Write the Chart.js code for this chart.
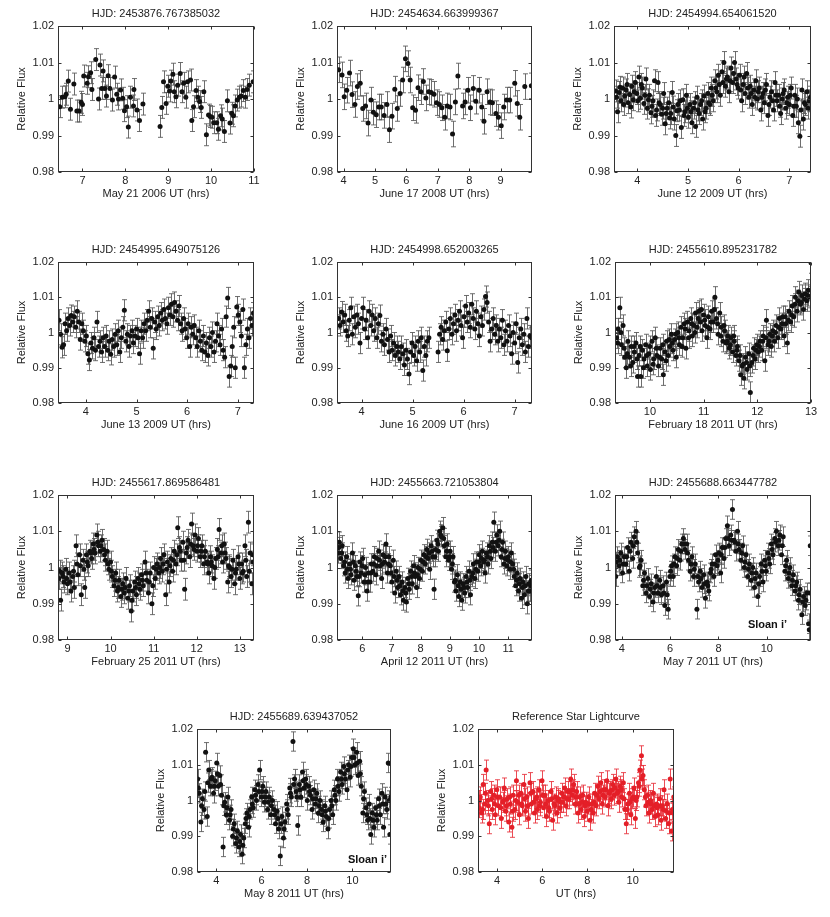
<!DOCTYPE html>
<html lang="en">
<head>
  <meta charset="UTF-8">
  <title>Light curves</title>
  <script src="https://cdn.jsdelivr.net/npm/chart.js@4.4.1/dist/chart.umd.min.js"></script>
  <style>
    body { margin: 0; background: #fff; width: 830px; height: 917px; position: relative; overflow: hidden; }
  </style>
</head>
<body>
<script>
// ---- data: [UT hours, relative flux] ----
var may21_2006 = [[6.47,0.9979],[6.53,1.0005],[6.59,1.0006],[6.62,1.0013],[6.67,1.0049],[6.72,0.9972],[6.80,1.0041],[6.87,0.9967],[6.92,0.9967],[6.97,0.9991],[7.00,0.9985],[7.03,1.0063],[7.11,1.0043],[7.14,1.0061],[7.19,1.0072],[7.22,1.0026],[7.31,1.0108],[7.375,1.0000],[7.41,1.0093],[7.45,1.0029],[7.48,1.0077],[7.52,1.0029],[7.56,1.0008],[7.60,1.0064],[7.64,1.0029],[7.70,0.9997],[7.75,1.0060],[7.80,1.0013],[7.84,1.0000],[7.89,1.0025],[7.94,1.0002],[7.98,0.9968],[8.03,0.9979],[8.07,0.9923],[8.12,1.0005],[8.19,0.9981],[8.20,1.0026],[8.27,0.9970],[8.33,0.9941],[8.41,0.9986],
  [8.81,0.9925],[8.85,0.9977],[8.89,1.0047],[8.95,0.9988],[8.99,1.0035],[9.03,1.0022],[9.06,1.0049],[9.11,1.0068],[9.14,1.0020],[9.18,1.0006],[9.22,1.0038],[9.28,1.0070],[9.32,1.0020],[9.36,1.0043],[9.41,1.0005],[9.45,1.0047],[9.52,1.0052],[9.55,0.9941],[9.59,0.9979],[9.65,1.0023],[9.69,1.0005],[9.73,0.9993],[9.77,0.9977],[9.83,1.0020],[9.89,0.9902],[9.94,0.9956],[9.98,0.9952],[10.02,0.9950],[10.06,0.9935],[10.13,0.9935],[10.17,0.9917],[10.22,0.9954],[10.26,0.9945],[10.31,0.9911],[10.38,0.9995],[10.44,0.9934],[10.48,0.9961],[10.52,0.9954],[10.56,0.9981],[10.61,0.9997],[10.66,1.0005],[10.70,1.0008],[10.75,1.0023],[10.80,1.0005],[10.84,1.0026],[10.89,1.0038],[10.98,1.0047]];

var june17_2008 = [[3.84,1.0080],[3.95,1.0066],[4.02,1.0006],[4.10,1.0024],[4.19,1.0071],[4.27,1.0012],[4.36,0.9985],[4.44,1.0034],[4.53,1.0043],[4.61,0.9974],[4.70,0.9981],[4.78,0.9934],[4.87,0.9997],[4.95,0.9964],[5.04,0.9957],[5.12,0.9978],[5.20,0.9978],[5.29,0.9955],[5.38,0.9985],[5.46,0.9916],[5.54,0.9953],[5.63,1.0027],[5.71,0.9974],[5.80,1.0015],[5.88,1.0052],[5.97,1.0110],[6.05,1.0097],[6.12,1.0052],[6.20,0.9976],[6.29,0.9969],[6.37,1.0031],[6.46,1.0020],[6.54,1.0048],[6.62,1.0003],[6.71,1.0020],[6.79,1.0018],[6.88,1.0013],[6.96,0.9990],[7.05,0.9985],[7.13,0.9976],[7.22,0.9950],[7.30,0.9981],[7.39,0.9978],[7.47,0.9904],[7.56,0.9992],[7.64,1.0063],[7.79,0.9981],[7.87,0.9992],[7.96,1.0024],[8.04,0.9976],[8.13,1.0029],[8.21,0.9994],[8.32,1.0024],[8.40,0.9978],[8.47,0.9939],[8.57,1.0020],[8.66,0.9992],[8.74,0.9990],[8.85,0.9960],[8.93,0.9950],[9.02,0.9927],[9.10,0.9978],[9.19,0.9997],[9.29,0.9997],[9.45,1.0043],[9.53,0.9988],[9.61,0.9950],[9.77,1.0034],[9.98,1.0036]];

var june12_2009 = [[3.57,1.0022],[3.59,1.0005],[3.61,0.9965],[3.64,1.0018],[3.66,1.0032],[3.68,0.9995],[3.71,1.0030],[3.73,0.9985],[3.75,1.0008],[3.78,1.0025],[3.80,1.0040],[3.82,0.9990],[3.85,1.0012],[3.87,0.9978],[3.89,1.0035],[3.92,0.9998],[3.94,1.0020],[3.96,1.0045],[3.99,1.0015],[4.01,0.9995],[4.03,1.0060],[4.06,1.0002],[4.08,1.0040],[4.10,1.0030],[4.13,0.9988],[4.15,1.0010],[4.17,1.0055],[4.20,0.9975],[4.22,0.9998],[4.24,1.0010],[4.27,0.9962],[4.29,0.9980],[4.31,0.9995],[4.34,1.0050],[4.36,0.9955],[4.38,0.9970],[4.41,1.0045],[4.43,0.9990],[4.45,0.9985],[4.48,0.9958],[4.50,0.9975],[4.52,1.0015],[4.55,0.9932],[4.57,0.9960],[4.59,0.9975],[4.62,0.9990],[4.64,0.9948],[4.66,0.9960],[4.69,1.0018],[4.71,0.9978],[4.73,0.9945],[4.76,0.9900],[4.78,0.9968],[4.80,0.9985],[4.83,0.9970],[4.85,0.9995],[4.87,0.9922],[4.90,0.9998],[4.92,0.9955],[4.94,0.9965],[4.97,1.0010],[4.99,0.9975],[5.01,0.9950],[5.04,0.9985],[5.06,0.9965],[5.08,0.9935],[5.11,0.9975],[5.13,0.9990],[5.15,0.9925],[5.18,1.0005],[5.20,0.9970],[5.22,0.9960],[5.25,0.9985],[5.27,0.9995],[5.29,0.9945],[5.32,1.0008],[5.34,0.9965],[5.36,0.9975],[5.39,1.0015],[5.41,0.9990],[5.43,0.9985],[5.46,1.0030],[5.48,1.0010],[5.50,0.9995],[5.53,1.0050],[5.55,1.0030],[5.57,1.0020],[5.60,1.0065],[5.62,1.0040],[5.64,1.0010],[5.67,1.0075],[5.69,1.0045],[5.71,1.0100],[5.74,1.0035],[5.76,1.0055],[5.78,1.0060],[5.81,1.0020],[5.83,1.0050],[5.85,1.0085],[5.88,1.0045],[5.90,1.0070],[5.92,1.0100],[5.95,1.0055],[5.97,1.0040],[5.99,1.0030],[6.02,1.0065],[6.04,1.0025],[6.06,0.9995],[6.09,1.0040],[6.11,1.0060],[6.13,1.0015],[6.16,1.0070],[6.18,1.0030],[6.20,1.0005],[6.23,1.0035],[6.25,1.0015],[6.27,0.9985],[6.30,1.0025],[6.32,1.0005],[6.34,1.0050],[6.37,1.0000],[6.39,1.0020],[6.41,1.0030],[6.44,0.9970],[6.46,1.0005],[6.48,1.0015],[6.51,0.9990],[6.53,1.0025],[6.55,1.0040],[6.58,0.9955],[6.60,0.9985],[6.62,1.0005],[6.65,1.0020],[6.67,0.9995],[6.69,0.9970],[6.72,1.0045],[6.74,1.0010],[6.76,0.9995],[6.79,1.0010],[6.81,0.9980],[6.83,0.9960],[6.86,1.0000],[6.88,1.0015],[6.90,1.0025],[6.93,0.9975],[6.95,0.9990],[6.97,1.0005],[7.00,0.9985],[7.02,1.0010],[7.04,1.0030],[7.07,0.9955],[7.09,0.9980],[7.11,1.0010],[7.14,0.9980],[7.16,1.0000],[7.18,0.9935],[7.21,0.9898],[7.23,0.9970],[7.25,1.0025],[7.28,0.9945],[7.30,0.9990],[7.32,0.9985],[7.35,1.0020],[7.37,0.9975],[7.39,0.9995],[7.42,1.0005]];

var june13_2009 = [[3.47,1.0035],[3.50,0.9995],[3.53,0.9958],[3.56,0.9965],[3.59,1.0025],[3.62,1.0005],[3.65,1.0040],[3.68,1.0020],[3.71,1.0048],[3.74,1.0030],[3.77,1.0045],[3.80,1.0015],[3.83,1.0060],[3.86,1.0030],[3.89,0.9980],[3.92,1.0025],[3.95,1.0005],[3.98,0.9975],[4.01,0.9990],[4.04,0.9940],[4.07,0.9922],[4.10,0.9970],[4.13,0.9955],[4.16,0.9985],[4.19,0.9950],[4.22,1.0030],[4.25,0.9960],[4.28,0.9975],[4.31,0.9945],[4.34,0.9985],[4.37,0.9960],[4.40,0.9990],[4.43,0.9950],[4.46,0.9975],[4.49,0.9938],[4.52,0.9980],[4.55,0.9960],[4.58,0.9995],[4.61,0.9965],[4.64,1.0005],[4.67,0.9945],[4.70,0.9985],[4.73,1.0015],[4.76,1.0063],[4.79,0.9975],[4.82,0.9995],[4.85,0.9960],[4.88,0.9990],[4.91,1.0005],[4.94,0.9970],[4.97,0.9990],[5.00,1.0010],[5.03,0.9985],[5.06,0.9940],[5.09,1.0005],[5.12,0.9985],[5.15,1.0025],[5.18,1.0005],[5.21,1.0035],[5.24,1.0060],[5.27,1.0015],[5.30,1.0040],[5.33,0.9955],[5.36,1.0030],[5.39,1.0010],[5.42,1.0045],[5.45,1.0020],[5.48,1.0055],[5.51,1.0035],[5.54,1.0065],[5.57,1.0040],[5.60,1.0025],[5.63,1.0070],[5.66,1.0050],[5.69,1.0080],[5.72,1.0045],[5.75,1.0085],[5.78,1.0060],[5.81,1.0035],[5.84,1.0075],[5.87,1.0025],[5.90,1.0005],[5.93,1.0040],[5.96,1.0010],[5.99,0.9985],[6.02,1.0025],[6.05,0.9960],[6.08,1.0015],[6.11,0.9995],[6.14,1.0020],[6.17,0.9985],[6.20,0.9960],[6.23,1.0005],[6.26,0.9975],[6.29,0.9950],[6.32,0.9990],[6.35,0.9945],[6.38,0.9970],[6.41,0.9935],[6.44,0.9985],[6.47,0.9960],[6.50,1.0000],[6.53,0.9945],[6.56,0.9975],[6.59,1.0025],[6.62,0.9990],[6.65,0.9965],[6.68,1.0010],[6.71,0.9950],[6.74,0.9930],[6.77,1.0045],[6.80,1.0098],[6.83,0.9875],[6.86,0.9905],[6.89,0.9960],[6.92,1.0015],[6.95,0.9900],[6.98,1.0072],[7.01,1.0050],[7.04,1.0030],[7.07,0.9990],[7.10,1.0065],[7.13,0.9900],[7.16,0.9965],[7.19,1.0010],[7.22,0.9985],[7.25,1.0040],[7.28,1.0020],[7.31,1.0055]];

var june16_2009 = [[3.55,1.0040],[3.58,1.0020],[3.61,1.0058],[3.64,1.0030],[3.67,1.0050],[3.70,1.0005],[3.73,0.9990],[3.76,1.0035],[3.79,1.0070],[3.82,0.9995],[3.85,1.0045],[3.88,1.0015],[3.91,1.0050],[3.94,1.0025],[3.97,0.9970],[4.00,1.0040],[4.03,1.0070],[4.06,1.0010],[4.09,1.0035],[4.12,0.9985],[4.15,1.0060],[4.18,1.0020],[4.21,1.0050],[4.24,1.0005],[4.27,1.0040],[4.30,0.9985],[4.33,1.0025],[4.36,1.0048],[4.39,0.9975],[4.42,0.9995],[4.45,0.9965],[4.48,1.0010],[4.51,0.9980],[4.54,0.9945],[4.57,0.9990],[4.60,0.9950],[4.63,0.9970],[4.66,0.9935],[4.69,0.9960],[4.72,0.9945],[4.75,0.9925],[4.78,0.9960],[4.81,0.9940],[4.84,0.9908],[4.87,0.9950],[4.90,0.9925],[4.93,0.9882],[4.96,0.9945],[4.99,0.9970],[5.02,0.9935],[5.05,0.9960],[5.08,0.9920],[5.11,0.9975],[5.14,0.9945],[5.17,0.9985],[5.20,0.9892],[5.23,0.9960],[5.26,0.9935],[5.29,0.9975],[5.32,0.9985],[5.50,0.9945],[5.53,0.9995],[5.56,1.0015],[5.59,0.9980],[5.62,1.0005],[5.65,1.0030],[5.68,0.9948],[5.71,1.0010],[5.74,1.0040],[5.77,0.9995],[5.80,1.0025],[5.83,1.0050],[5.86,1.0005],[5.89,1.0035],[5.92,1.0060],[5.95,1.0020],[5.98,0.9985],[6.01,1.0045],[6.04,1.0075],[6.07,1.0030],[6.10,1.0055],[6.13,1.0015],[6.16,1.0080],[6.19,1.0040],[6.22,1.0010],[6.25,1.0060],[6.28,1.0025],[6.31,0.9990],[6.34,1.0045],[6.37,1.0020],[6.40,1.0065],[6.43,1.0102],[6.46,1.0085],[6.49,1.0030],[6.52,0.9975],[6.55,1.0010],[6.58,1.0040],[6.61,0.9995],[6.64,1.0020],[6.67,0.9975],[6.70,1.0010],[6.73,0.9985],[6.76,1.0035],[6.79,0.9965],[6.82,1.0005],[6.85,0.9975],[6.88,1.0020],[6.91,0.9990],[6.94,0.9940],[6.97,1.0000],[7.00,0.9970],[7.03,1.0025],[7.06,0.9915],[7.09,0.9985],[7.12,1.0010],[7.15,0.9965],[7.18,0.9995],[7.21,0.9945],[7.24,1.0040],[7.27,0.9960],[7.30,0.9990],[7.33,0.9985]];

var feb18_2011 = [[9.38,0.9985],[9.41,1.0010],[9.44,1.0070],[9.47,0.9965],[9.50,1.0020],[9.53,0.9930],[9.56,0.9900],[9.59,0.9975],[9.62,0.9930],[9.65,0.9960],[9.68,0.9915],[9.71,0.9945],[9.74,0.9970],[9.77,0.9875],[9.80,0.9935],[9.83,0.9875],[9.86,0.9950],[9.89,0.9925],[9.92,0.9965],[9.95,0.9905],[9.98,0.9940],[10.01,0.9895],[10.04,0.9975],[10.07,0.9925],[10.10,0.9985],[10.13,0.9935],[10.16,0.9905],[10.19,0.9955],[10.22,0.9925],[10.25,0.9880],[10.28,0.9945],[10.31,0.9975],[10.34,0.9935],[10.37,0.9960],[10.40,0.9995],[10.43,0.9950],[10.46,0.9980],[10.49,0.9930],[10.52,1.0000],[10.55,0.9965],[10.58,1.0015],[10.61,0.9985],[10.64,1.0025],[10.67,0.9955],[10.70,1.0030],[10.73,1.0005],[10.76,1.0040],[10.79,0.9990],[10.82,1.0020],[10.85,1.0055],[10.88,1.0015],[10.91,1.0060],[10.94,1.0030],[10.97,1.0005],[11.00,1.0050],[11.03,1.0020],[11.06,0.9985],[11.09,1.0045],[11.12,1.0010],[11.15,1.0060],[11.18,1.0030],[11.21,1.0100],[11.24,1.0040],[11.27,0.9995],[11.30,1.0055],[11.33,1.0015],[11.36,0.9975],[11.39,1.0005],[11.42,0.9970],[11.45,0.9990],[11.48,0.9955],[11.51,0.9985],[11.54,0.9945],[11.57,0.9975],[11.60,0.9935],[11.63,0.9960],[11.66,0.9920],[11.69,0.9880],[11.72,0.9905],[11.75,0.9870],[11.78,0.9930],[11.81,0.9895],[11.84,0.9940],[11.87,0.9830],[11.90,0.9915],[11.93,0.9955],[11.96,0.9925],[11.99,0.9965],[12.02,0.9945],[12.05,0.9975],[12.08,0.9950],[12.11,0.9990],[12.14,0.9920],[12.17,1.0035],[12.20,0.9965],[12.23,0.9995],[12.26,0.9960],[12.29,1.0005],[12.32,0.9975],[12.35,1.0020],[12.38,0.9985],[12.41,1.0040],[12.44,1.0010],[12.47,1.0045],[12.50,0.9990],[12.53,1.0025],[12.56,0.9970],[12.59,1.0060],[12.62,1.0030],[12.65,1.0075],[12.68,1.0045],[12.71,1.0100],[12.74,1.0060],[12.77,1.0115],[12.80,1.0080],[12.83,1.0105],[12.86,1.0065],[12.89,1.0110],[12.92,1.0090],[12.95,1.0120],[12.98,1.0100],[13.00,1.0198]];

var feb25_2011 = [[8.80,0.9970],[8.84,0.9910],[8.88,0.9985],[8.92,0.9960],[8.96,0.9995],[9.00,0.9955],[9.04,0.9985],[9.08,0.9935],[9.12,0.9975],[9.16,0.9945],[9.20,1.0060],[9.24,0.9980],[9.28,1.0035],[9.32,0.9925],[9.36,1.0020],[9.40,0.9945],[9.44,1.0035],[9.48,1.0005],[9.52,1.0045],[9.56,1.0025],[9.60,1.0065],[9.64,1.0040],[9.68,1.0090],[9.72,1.0060],[9.76,1.0045],[9.80,1.0075],[9.84,1.0050],[9.88,1.0020],[9.92,1.0045],[9.96,0.9995],[10.00,1.0015],[10.04,0.9975],[10.08,0.9950],[10.12,0.9985],[10.16,0.9935],[10.20,0.9965],[10.24,0.9920],[10.28,0.9955],[10.32,0.9930],[10.36,0.9970],[10.40,0.9915],[10.44,0.9950],[10.48,0.9880],[10.52,0.9935],[10.56,0.9960],[10.60,0.9925],[10.64,0.9970],[10.68,0.9940],[10.72,0.9980],[10.76,0.9950],[10.80,1.0015],[10.84,0.9965],[10.88,0.9930],[10.92,0.9985],[10.96,0.9900],[11.00,1.0000],[11.04,0.9970],[11.08,1.0010],[11.12,0.9985],[11.16,1.0025],[11.20,0.9990],[11.24,1.0035],[11.28,0.9925],[11.32,1.0015],[11.36,0.9960],[11.40,1.0025],[11.44,0.9990],[11.48,1.0045],[11.52,1.0010],[11.56,1.0110],[11.60,1.0055],[11.64,1.0020],[11.68,1.0070],[11.72,0.9940],[11.76,1.0040],[11.80,1.0075],[11.84,1.0030],[11.88,1.0120],[11.92,1.0060],[11.96,1.0090],[12.00,1.0045],[12.04,1.0080],[12.08,1.0030],[12.12,1.0060],[12.16,1.0010],[12.20,1.0045],[12.24,1.0015],[12.28,0.9985],[12.32,1.0030],[12.36,1.0005],[12.40,0.9970],[12.44,1.0025],[12.48,1.0050],[12.52,1.0105],[12.56,1.0040],[12.60,1.0015],[12.64,1.0065],[12.68,1.0025],[12.72,0.9960],[12.76,1.0000],[12.80,0.9975],[12.84,1.0020],[12.88,0.9955],[12.92,0.9995],[12.96,1.0030],[13.00,0.9970],[13.04,1.0010],[13.08,0.9990],[13.12,1.0060],[13.16,0.9975],[13.20,1.0125],[13.24,1.0040],[13.28,0.9955],[13.31,1.0015]];

var apr12_2011 = [[5.16,1.0040],[5.21,1.0070],[5.26,1.0025],[5.31,1.0060],[5.36,1.0005],[5.41,0.9985],[5.46,1.0030],[5.51,0.9970],[5.56,1.0010],[5.61,0.9980],[5.66,1.0040],[5.71,0.9965],[5.76,1.0005],[5.81,0.9975],[5.86,0.9922],[5.91,1.0015],[5.96,0.9985],[6.01,1.0025],[6.06,0.9960],[6.11,1.0000],[6.16,0.9935],[6.21,0.9985],[6.26,0.9960],[6.31,1.0010],[6.36,0.9990],[6.41,1.0030],[6.46,0.9980],[6.51,1.0025],[6.56,1.0045],[6.61,1.0005],[6.66,0.9970],[6.71,1.0035],[6.76,1.0015],[6.81,1.0065],[6.86,0.9985],[6.91,1.0030],[6.96,1.0005],[7.01,0.9960],[7.06,1.0020],[7.11,0.9930],[7.16,0.9990],[7.21,0.9945],[7.26,0.9975],[7.31,0.9925],[7.36,0.9960],[7.41,0.9910],[7.46,0.9945],[7.51,0.9905],[7.56,0.9970],[7.61,0.9940],[7.66,0.9990],[7.71,0.9955],[7.76,1.0005],[7.81,0.9975],[7.86,0.9945],[7.91,1.0000],[7.96,0.9970],[8.01,1.0020],[8.06,0.9990],[8.11,1.0035],[8.16,1.0010],[8.21,1.0050],[8.26,1.0025],[8.31,0.9995],[8.36,1.0060],[8.41,1.0030],[8.46,0.9940],[8.51,1.0050],[8.56,1.0075],[8.61,1.0045],[8.66,1.0100],[8.71,1.0085],[8.76,1.0110],[8.81,1.0060],[8.86,1.0030],[8.91,1.0065],[8.96,1.0020],[9.01,1.0045],[9.06,0.9995],[9.11,1.0030],[9.16,0.9960],[9.21,0.9935],[9.26,0.9980],[9.31,0.9920],[9.36,0.9960],[9.41,0.9910],[9.46,0.9955],[9.51,0.9930],[9.56,0.9975],[9.61,0.9945],[9.66,0.9990],[9.71,0.9925],[9.76,0.9975],[9.81,1.0010],[9.86,0.9970],[9.91,1.0015],[9.96,0.9990],[10.01,1.0035],[10.06,1.0005],[10.11,1.0045],[10.16,1.0015],[10.21,0.9985],[10.26,1.0040],[10.31,1.0010],[10.36,1.0060],[10.41,1.0025],[10.46,1.0070],[10.51,1.0125],[10.56,1.0045],[10.61,1.0090],[10.66,1.0060],[10.71,1.0100],[10.76,1.0030],[10.81,1.0070],[10.86,1.0010],[10.91,1.0045],[10.96,1.0005],[11.01,1.0030],[11.06,0.9995],[11.11,1.0040],[11.16,1.0010],[11.21,0.9975],[11.26,0.9950],[11.31,0.9985],[11.36,0.9935],[11.41,0.9970],[11.46,0.9915],[11.51,0.9960],[11.56,0.9925],[11.61,0.9975],[11.66,0.9900],[11.71,0.9955],[11.76,0.9935],[11.80,0.9965]];

var may07_2011 = [[3.75,0.9975],[3.82,1.0030],[3.89,1.0005],[3.96,1.0040],[4.03,0.9985],[4.10,1.0030],[4.17,1.0010],[4.24,1.0055],[4.31,0.9990],[4.38,1.0070],[4.45,1.0025],[4.52,1.0085],[4.59,1.0100],[4.66,1.0040],[4.73,1.0000],[4.80,1.0020],[4.87,0.9950],[4.94,0.9985],[5.01,0.9930],[5.08,0.9970],[5.15,0.9920],[5.22,0.9955],[5.29,0.9905],[5.36,0.9945],[5.43,0.9975],[5.50,0.9930],[5.57,0.9965],[5.64,0.9925],[5.71,0.9950],[5.78,0.9895],[5.85,0.9960],[5.92,0.9885],[5.99,0.9975],[6.06,1.0005],[6.13,0.9975],[6.20,1.0030],[6.27,1.0005],[6.34,1.0050],[6.41,1.0020],[6.48,1.0065],[6.55,1.0080],[6.62,1.0050],[6.69,1.0065],[6.76,1.0020],[6.83,0.9990],[6.90,1.0030],[6.97,0.9975],[7.04,1.0010],[7.11,0.9885],[7.18,0.9960],[7.25,0.9990],[7.32,0.9945],[7.39,0.9980],[7.46,0.9915],[7.53,0.9960],[7.60,0.9935],[7.67,0.9985],[7.74,1.0010],[7.81,0.9975],[7.88,1.0035],[7.95,1.0005],[8.02,1.0040],[8.09,0.9985],[8.16,1.0055],[8.23,1.0025],[8.30,1.0080],[8.37,1.0115],[8.44,1.0060],[8.51,1.0090],[8.58,1.0160],[8.65,1.0075],[8.72,1.0045],[8.79,1.0100],[8.86,1.0050],[8.93,1.0020],[9.00,1.0060],[9.07,1.0000],[9.14,1.0035],[9.21,0.9975],[9.28,1.0010],[9.35,0.9965],[9.42,1.0000],[9.49,0.9945],[9.56,0.9985],[9.63,0.9920],[9.70,0.9975],[9.77,1.0010],[9.84,0.9960],[9.91,1.0020],[9.98,0.9990],[10.05,1.0040],[10.12,1.0010],[10.19,1.0065],[10.26,1.0035],[10.33,1.0080],[10.40,1.0100],[10.47,1.0060],[10.54,1.0090],[10.61,1.0035],[10.68,1.0085],[10.75,0.9990],[10.82,1.0020],[10.89,0.9970],[10.96,1.0000],[11.03,0.9950],[11.10,0.9980],[11.17,0.9935],[11.24,0.9960],[11.31,0.9910],[11.38,0.9940],[11.45,0.9870],[11.52,0.9920],[11.59,0.9895],[11.66,0.9930],[11.73,0.9845],[11.76,0.9828],[11.80,1.0060]];

var may08_2011 = [[3.18,1.0060],[3.25,1.0020],[3.32,0.9940],[3.39,1.0005],[3.46,0.9975],[3.53,1.0135],[3.60,0.9955],[3.67,1.0085],[3.74,1.0040],[3.81,1.0065],[3.88,1.0020],[3.95,1.0055],[4.02,1.0105],[4.09,1.0040],[4.16,1.0070],[4.23,1.0015],[4.30,0.9870],[4.37,0.9995],[4.44,0.9960],[4.51,1.0010],[4.58,0.9945],[4.65,0.9975],[4.72,0.9900],[4.79,0.9935],[4.86,0.9880],[4.93,0.9915],[5.00,0.9870],[5.07,0.9905],[5.14,0.9850],[5.21,0.9895],[5.28,0.9935],[5.35,0.9965],[5.42,0.9925],[5.49,0.9975],[5.56,1.0010],[5.63,0.9980],[5.70,1.0030],[5.77,1.0000],[5.84,1.0045],[5.91,1.0085],[5.98,1.0010],[6.05,1.0040],[6.12,0.9995],[6.19,1.0025],[6.26,0.9975],[6.33,1.0010],[6.40,0.9960],[6.47,1.0000],[6.54,0.9975],[6.61,0.9935],[6.68,0.9970],[6.75,0.9920],[6.82,0.9845],[6.89,0.9955],[6.96,0.9895],[7.03,0.9940],[7.10,0.9990],[7.17,0.9960],[7.24,1.0035],[7.31,1.0010],[7.38,1.0165],[7.45,1.0060],[7.52,1.0025],[7.59,0.9930],[7.66,1.0045],[7.73,1.0010],[7.80,1.0080],[7.87,1.0035],[7.94,1.0060],[8.01,1.0000],[8.08,1.0040],[8.15,1.0015],[8.22,0.9975],[8.29,1.0030],[8.36,0.9990],[8.43,1.0020],[8.50,0.9965],[8.57,1.0000],[8.64,0.9975],[8.71,0.9940],[8.78,0.9985],[8.85,0.9955],[8.92,0.9920],[8.99,0.9975],[9.06,1.0000],[9.13,0.9960],[9.20,1.0030],[9.27,1.0000],[9.34,1.0060],[9.41,1.0025],[9.48,1.0080],[9.55,1.0045],[9.62,1.0095],[9.69,1.0060],[9.76,1.0030],[9.83,1.0100],[9.90,1.0065],[9.97,1.0120],[10.04,1.0145],[10.11,1.0100],[10.18,1.0135],[10.25,1.0070],[10.32,1.0110],[10.39,1.0040],[10.46,0.9965],[10.53,1.0025],[10.60,0.9980],[10.67,0.9945],[10.74,0.9990],[10.81,0.9905],[10.88,0.9965],[10.95,0.9925],[11.02,0.9980],[11.09,0.9945],[11.16,1.0005],[11.23,0.9960],[11.30,1.0020],[11.37,0.9925],[11.44,1.0010],[11.51,0.9975],[11.58,1.0105],[11.65,0.9905],[11.69,1.0010]];

var referenceStar = [[3.19,0.9980],[3.26,1.0010],[3.32,0.9965],[3.39,1.0045],[3.46,0.9990],[3.52,1.0085],[3.59,1.0000],[3.66,0.9935],[3.72,1.0025],[3.79,0.9975],[3.86,1.0015],[3.92,0.9960],[3.99,1.0030],[4.06,0.9985],[4.12,1.0010],[4.19,0.9950],[4.26,0.9995],[4.32,1.0035],[4.39,0.9970],[4.46,1.0005],[4.52,0.9940],[4.59,0.9990],[4.66,0.9925],[4.72,1.0015],[4.79,0.9975],[4.86,1.0055],[4.92,0.9995],[4.99,0.9960],[5.06,1.0020],[5.12,0.9985],[5.19,1.0045],[5.26,0.9970],[5.32,1.0010],[5.39,0.9950],[5.46,1.0050],[5.52,0.9990],[5.59,1.0025],[5.66,0.9965],[5.72,1.0005],[5.79,0.9975],[5.86,1.0030],[5.92,0.9995],[5.99,1.0055],[6.06,0.9980],[6.12,1.0015],[6.19,0.9955],[6.26,1.0000],[6.32,0.9970],[6.39,1.0025],[6.46,0.9945],[6.52,0.9990],[6.59,1.0010],[6.66,0.9965],[6.72,1.0005],[6.79,0.9980],[6.86,1.0020],[6.92,0.9995],[6.99,1.0035],[7.06,0.9985],[7.12,1.0025],[7.19,1.0005],[7.26,1.0060],[7.32,1.0015],[7.39,1.0045],[7.46,0.9990],[7.52,1.0025],[7.59,0.9965],[7.66,1.0010],[7.72,0.9975],[7.79,1.0015],[7.86,0.9955],[7.92,0.9995],[7.99,0.9970],[8.06,1.0010],[8.12,0.9945],[8.19,0.9990],[8.26,0.9965],[8.32,1.0020],[8.39,0.9985],[8.46,1.0040],[8.52,1.0005],[8.59,1.0050],[8.66,0.9990],[8.72,1.0030],[8.79,1.0010],[8.86,1.0055],[8.92,0.9985],[8.99,1.0025],[9.06,1.0005],[9.12,1.0045],[9.19,1.0015],[9.26,1.0060],[9.32,1.0020],[9.39,0.9995],[9.46,1.0040],[9.52,1.0010],[9.59,1.0050],[9.66,0.9975],[9.72,0.9935],[9.79,0.9990],[9.86,1.0020],[9.92,0.9960],[9.99,1.0005],[10.06,1.0035],[10.12,0.9950],[10.19,1.0010],[10.26,1.0050],[10.32,1.0085],[10.39,1.0125],[10.46,1.0070],[10.52,1.0030],[10.59,0.9985],[10.66,1.0015],[10.72,0.9965],[10.79,1.0000],[10.86,0.9975],[10.92,1.0020],[10.99,0.9955],[11.06,0.9990],[11.12,0.9960],[11.19,1.0005],[11.26,0.9945],[11.32,0.9985],[11.39,1.0030],[11.46,0.9950],[11.52,0.9990],[11.59,0.9935],[11.66,1.0060],[11.72,0.9915],[11.79,0.9965],[11.82,1.0010]];

// second, interleaved exposures for the densest nights
var feb18_2011b = [[9.40,0.9970],[9.46,1.0000],[9.52,0.9955],[9.58,0.9940],[9.64,0.9905],[9.70,0.9960],[9.76,0.9925],[9.82,0.9960],[9.88,0.9900],[9.94,0.9935],[10.00,0.9960],[10.06,0.9910],[10.12,0.9955],[10.18,0.9930],[10.24,0.9965],[10.30,0.9920],[10.36,0.9980],[10.42,0.9970],[10.48,0.9995],[10.54,0.9985],[10.60,0.9960],[10.66,1.0010],[10.72,0.9985],[10.78,1.0025],[10.84,1.0000],[10.90,1.0040],[10.96,1.0065],[11.02,1.0035],[11.08,1.0015],[11.14,1.0030],[11.20,1.0065],[11.26,1.0025],[11.32,0.9990],[11.38,1.0020],[11.44,0.9975],[11.50,0.9965],[11.56,0.9990],[11.62,0.9950],[11.68,0.9935],[11.74,0.9910],[11.80,0.9915],[11.86,0.9905],[11.92,0.9935],[11.98,0.9950],[12.04,0.9960],[12.10,0.9975],[12.16,0.9985],[12.22,0.9975],[12.28,0.9990],[12.34,1.0000],[12.40,1.0015],[12.46,1.0025],[12.52,1.0045],[12.58,1.0035],[12.64,1.0050],[12.70,1.0080],[12.76,1.0090],[12.82,1.0085],[12.88,1.0095],[12.94,1.0105]];

var feb25_2011b = [[8.82,0.9990],[8.90,0.9975],[8.98,0.9970],[9.06,0.9960],[9.14,0.9990],[9.22,1.0010],[9.30,1.0005],[9.38,0.9995],[9.46,1.0015],[9.54,1.0040],[9.62,1.0050],[9.70,1.0070],[9.78,1.0060],[9.86,1.0035],[9.94,1.0010],[10.02,0.9990],[10.10,0.9965],[10.18,0.9945],[10.26,0.9940],[10.34,0.9945],[10.42,0.9935],[10.50,0.9910],[10.58,0.9945],[10.66,0.9955],[10.74,0.9965],[10.82,0.9985],[10.90,0.9960],[10.98,0.9950],[11.06,0.9995],[11.14,1.0000],[11.22,1.0010],[11.30,0.9995],[11.38,1.0005],[11.46,1.0020],[11.54,1.0035],[11.62,1.0045],[11.70,1.0020],[11.78,1.0055],[11.86,1.0065],[11.94,1.0050],[12.02,1.0060],[12.10,1.0045],[12.18,1.0030],[12.26,1.0010],[12.34,1.0015],[12.42,1.0000],[12.50,1.0030],[12.58,1.0060],[12.66,1.0040],[12.74,1.0005],[12.82,0.9995],[12.90,0.9985],[12.98,1.0010],[13.06,0.9985],[13.14,1.0020],[13.22,0.9990],[13.30,1.0035]];

var apr12_2011b = [[5.19,1.0055],[5.29,1.0040],[5.39,1.0015],[5.49,0.9995],[5.59,0.9995],[5.69,1.0015],[5.79,0.9990],[5.89,0.9975],[5.99,1.0005],[6.09,0.9980],[6.19,0.9960],[6.29,0.9985],[6.39,1.0010],[6.49,1.0005],[6.59,1.0020],[6.69,1.0010],[6.79,1.0030],[6.89,1.0010],[6.99,0.9985],[7.09,0.9975],[7.19,0.9965],[7.29,0.9950],[7.39,0.9935],[7.49,0.9930],[7.59,0.9955],[7.69,0.9975],[7.79,0.9985],[7.89,0.9980],[7.99,0.9995],[8.09,1.0015],[8.19,1.0030],[8.29,1.0040],[8.39,1.0045],[8.49,1.0030],[8.59,1.0065],[8.69,1.0090],[8.79,1.0080],[8.89,1.0045],[8.99,1.0030],[9.09,1.0010],[9.19,0.9965],[9.29,0.9950],[9.39,0.9940],[9.49,0.9945],[9.59,0.9960],[9.69,0.9965],[9.79,0.9985],[9.89,0.9995],[9.99,1.0015],[10.09,1.0025],[10.19,1.0020],[10.29,1.0030],[10.39,1.0045],[10.49,1.0055],[10.59,1.0070],[10.69,1.0075],[10.79,1.0050],[10.89,1.0025],[10.99,1.0020],[11.09,1.0015],[11.19,0.9995],[11.29,0.9965],[11.39,0.9955],[11.49,0.9945],[11.59,0.9950],[11.69,0.9935],[11.78,0.9950]];

var may07_2011b = [[3.78,1.0015],[3.92,1.0020],[4.06,1.0010],[4.20,1.0030],[4.34,1.0045],[4.48,1.0060],[4.62,1.0070],[4.76,1.0005],[4.90,0.9965],[5.04,0.9950],[5.18,0.9940],[5.32,0.9930],[5.46,0.9950],[5.60,0.9945],[5.74,0.9930],[5.88,0.9925],[6.02,0.9990],[6.16,1.0010],[6.30,1.0025],[6.44,1.0045],[6.58,1.0065],[6.72,1.0040],[6.86,1.0010],[7.00,0.9995],[7.14,0.9975],[7.28,0.9970],[7.42,0.9955],[7.56,0.9950],[7.70,0.9995],[7.84,1.0010],[7.98,1.0020],[8.12,1.0035],[8.26,1.0055],[8.40,1.0080],[8.54,1.0075],[8.68,1.0070],[8.82,1.0065],[8.96,1.0040],[9.10,1.0015],[9.24,0.9995],[9.38,0.9985],[9.52,0.9970],[9.66,0.9955],[9.80,0.9990],[9.94,1.0005],[10.08,1.0025],[10.22,1.0050],[10.36,1.0070],[10.50,1.0075],[10.64,1.0060],[10.78,1.0005],[10.92,0.9985],[11.06,0.9965],[11.20,0.9950],[11.34,0.9925],[11.48,0.9905],[11.62,0.9910],[11.78,0.9930]];

var may08_2011b = [[3.21,1.0035],[3.35,0.9985],[3.49,1.0025],[3.63,1.0050],[3.77,1.0060],[3.91,1.0040],[4.05,1.0075],[4.19,1.0045],[4.33,0.9985],[4.47,0.9980],[4.61,0.9960],[4.75,0.9920],[4.89,0.9895],[5.03,0.9885],[5.17,0.9875],[5.31,0.9950],[5.45,0.9955],[5.59,0.9990],[5.73,1.0015],[5.87,1.0025],[6.01,1.0025],[6.15,1.0010],[6.29,0.9995],[6.43,0.9985],[6.57,0.9960],[6.71,0.9950],[6.85,0.9935],[6.99,0.9920],[7.13,0.9975],[7.27,1.0020],[7.41,1.0045],[7.55,1.0010],[7.69,1.0030],[7.83,1.0055],[7.97,1.0045],[8.11,1.0025],[8.25,1.0005],[8.39,1.0005],[8.53,0.9985],[8.67,0.9960],[8.81,0.9970],[8.95,0.9950],[9.09,0.9985],[9.23,1.0015],[9.37,1.0040],[9.51,1.0060],[9.65,1.0075],[9.79,1.0085],[9.93,1.0095],[10.07,1.0120],[10.21,1.0105],[10.35,1.0075],[10.49,1.0005],[10.63,0.9960],[10.77,0.9950],[10.91,0.9945],[11.05,0.9960],[11.19,0.9985],[11.33,0.9990],[11.47,0.9990],[11.61,1.0000]];

var referenceStarB = [[3.22,1.0000],[3.36,0.9975],[3.49,1.0020],[3.62,0.9985],[3.76,1.0005],[3.89,0.9990],[4.02,1.0010],[4.16,0.9980],[4.29,1.0000],[4.42,0.9985],[4.56,1.0010],[4.69,0.9970],[4.82,1.0000],[4.96,1.0015],[5.09,0.9990],[5.22,1.0005],[5.36,0.9985],[5.49,1.0020],[5.62,0.9995],[5.76,1.0010],[5.89,0.9985],[6.02,1.0015],[6.16,0.9990],[6.29,0.9980],[6.42,1.0005],[6.56,0.9985],[6.69,1.0000],[6.82,0.9995],[6.96,1.0010],[7.09,1.0005],[7.22,1.0025],[7.36,1.0030],[7.49,1.0010],[7.62,0.9990],[7.76,0.9995],[7.89,0.9985],[8.02,0.9990],[8.16,0.9975],[8.29,0.9995],[8.42,1.0015],[8.56,1.0025],[8.69,1.0015],[8.82,1.0030],[8.96,1.0020],[9.09,1.0030],[9.22,1.0035],[9.36,1.0025],[9.49,1.0030],[9.62,1.0005],[9.76,0.9975],[9.89,0.9995],[10.02,1.0010],[10.16,1.0000],[10.29,1.0040],[10.42,1.0060],[10.56,1.0010],[10.69,0.9995],[10.82,0.9990],[10.96,0.9985],[11.09,0.9980],[11.22,0.9985],[11.36,0.9975],[11.49,0.9970],[11.62,0.9965],[11.76,0.9975]];

var series = [[may21_2006], [june17_2008], [june12_2009], [june13_2009], [june16_2009],
              [feb18_2011, feb18_2011b], [feb25_2011, feb25_2011b], [apr12_2011, apr12_2011b],
              [may07_2011, may07_2011b], [may08_2011, may08_2011b], [referenceStar, referenceStarB]];
var titles = ['HJD: 2453876.767385032', 'HJD: 2454634.663999367', 'HJD: 2454994.654061520',
              'HJD: 2454995.649075126', 'HJD: 2454998.652003265', 'HJD: 2455610.895231782',
              'HJD: 2455617.869586481', 'HJD: 2455663.721053804', 'HJD: 2455688.663447782',
              'HJD: 2455689.639437052', 'Reference Star Lightcurve'];
var xLabels = ['May 21 2006 UT (hrs)', 'June 17 2008 UT (hrs)', 'June 12 2009 UT (hrs)',
               'June 13 2009 UT (hrs)', 'June 16 2009 UT (hrs)', 'February 18 2011 UT (hrs)',
               'February 25 2011 UT (hrs)', 'April 12 2011 UT (hrs)', 'May 7 2011 UT (hrs)',
               'May 8 2011 UT (hrs)', 'UT (hrs)'];
var xRanges = [[6.43,11.0],[3.79,10.0],[3.54,7.43],[3.45,7.32],[3.52,7.34],[9.35,13.0],
               [8.78,13.33],[5.13,11.82],[3.72,11.83],[3.15,11.7],[3.16,11.83]];
var xTicks = [[7,8,9,10,11],[4,5,6,7,8,9],[4,5,6,7],[4,5,6,7],[4,5,6,7],[10,11,12,13],
              [9,10,11,12,13],[6,7,8,9,10,11],[4,6,8,10],[4,6,8,10],[4,6,8,10]];
var yTicks = [0.98, 0.99, 1, 1.01, 1.02];
var yTickLabels = ['0.98', '0.99', '1', '1.01', '1.02'];
var errBars = [0.003, 0.0035, 0.003, 0.003, 0.003, 0.003, 0.003, 0.0028, 0.0027, 0.0027, 0.0028];
var notes = ['', '', '', '', '', '', '', '', "Sloan i\u2019", "Sloan i\u2019", ''];

// ---- layout: plot area [left, top, width, height] in page pixels ----
var boxes = [[58,26,196,146],[337,26,195,146],[614,26,197,146],
             [58,262,196,141],[337,262,195,141],[615,262,196,141],
             [58,495,196,145],[337,495,195,145],[615,495,196,145],
             [197,729,194,143],[478,729,196,143]];
var noteOffset = [null,null,null,null,null,null,null,null,[24,15],[4,12],null];
var ML = 56, MR = 14, MT = 28, MB = 31;
var FONT = '"Liberation Sans", Arial, Helvetica, sans-serif';

Chart.defaults.font.family = FONT;
Chart.defaults.font.size = 11;
Chart.defaults.color = '#222';

// error bars drawn under the points
var errorBars = {
  id: 'errorBars',
  beforeDatasetsDraw: function(chart, args, opts) {
    var ctx = chart.ctx, a = chart.chartArea, ys = chart.scales.y;
    ctx.save();
    ctx.beginPath();
    ctx.rect(a.left, a.top, a.right - a.left, a.bottom - a.top);
    ctx.clip();
    ctx.strokeStyle = opts.color;
    ctx.lineWidth = 1;
    chart.data.datasets.forEach(function(ds, i) {
      var meta = chart.getDatasetMeta(i);
      meta.data.forEach(function(pt, j) {
        var v = ds.data[j].y;
        var top = ys.getPixelForValue(v + opts.err), bot = ys.getPixelForValue(v - opts.err);
        var x = Math.round(pt.x) + 0.5;
        ctx.beginPath();
        ctx.moveTo(x, top); ctx.lineTo(x, bot);
        ctx.moveTo(x - 2.5, top); ctx.lineTo(x + 2.5, top);
        ctx.moveTo(x - 2.5, bot); ctx.lineTo(x + 2.5, bot);
        ctx.stroke();
      });
    });
    ctx.restore();
  }
};

// matlab style box with inward ticks on all four sides
var boxFrame = {
  id: 'boxFrame',
  afterDraw: function(chart) {
    var ctx = chart.ctx, a = chart.chartArea, xs = chart.scales.x, ys = chart.scales.y;
    var L = Math.round(a.left) + 0.5, R = Math.round(a.right) - 0.5;
    var T = Math.round(a.top) + 0.5, B = Math.round(a.bottom) - 0.5;
    ctx.save();
    ctx.strokeStyle = '#333';
    ctx.lineWidth = 1;
    ctx.strokeRect(L, T, R - L, B - T);
    ctx.beginPath();
    xs.ticks.forEach(function(t) {
      var x = Math.round(xs.getPixelForValue(t.value)) + 0.5;
      ctx.moveTo(x, B); ctx.lineTo(x, B - 3);
      ctx.moveTo(x, T); ctx.lineTo(x, T + 3);
    });
    ys.ticks.forEach(function(t) {
      var y = Math.round(ys.getPixelForValue(t.value)) + 0.5;
      ctx.moveTo(L, y); ctx.lineTo(L + 3, y);
      ctx.moveTo(R, y); ctx.lineTo(R - 3, y);
    });
    ctx.stroke();
    ctx.restore();
  }
};

// filter label inside the plot
var filterNote = {
  id: 'filterNote',
  afterDraw: function(chart, args, opts) {
    if (!opts.text) return;
    var ctx = chart.ctx, a = chart.chartArea;
    ctx.save();
    ctx.font = 'bold 11px ' + FONT;
    ctx.fillStyle = '#111';
    ctx.textAlign = 'right';
    ctx.textBaseline = 'middle';
    ctx.fillText(opts.text, a.right - opts.dx, a.bottom - opts.dy);
    ctx.restore();
  }
};

function makePanel(i) {
  var b = boxes[i];
  var W = ML + b[2] + MR, H = MT + b[3] + MB;
  var cv = document.createElement('canvas');
  cv.width = W; cv.height = H;
  cv.style.cssText = 'position:absolute;left:' + (b[0] - ML) + 'px;top:' + (b[1] - MT) + 'px;width:' + W + 'px;height:' + H + 'px';
  document.body.appendChild(cv);

  var red = (i === 10);
  var dotColor = red ? '#e41f28' : '#111';
  var xt = xTicks[i];
  var off = noteOffset[i] || [0, 0];
  var datasets = series[i].map(function(s) {
    return {
      data: s.map(function(p) { return {x: p[0], y: p[1]}; }),
      pointRadius: 2.5,
      pointBorderWidth: 0,
      pointBackgroundColor: dotColor,
      pointBorderColor: dotColor,
      showLine: false
    };
  });

  new Chart(cv, {
    type: 'scatter',
    data: { datasets: datasets },
    options: {
      responsive: false,
      animation: false,
      events: [],
      layout: { padding: { left: 0, right: MR, top: 0, bottom: 0 } },
      plugins: {
        legend: { display: false },
        tooltip: { enabled: false },
        title: {
          display: true,
          fullSize: false,
          text: titles[i],
          color: '#222',
          font: { size: 11, weight: 'normal' },
          padding: { top: 9, bottom: MT - 9 - 13.2 }
        },
        errorBars: { err: errBars[i], color: red ? 'rgba(232,45,55,0.85)' : 'rgba(85,85,85,0.85)' },
        filterNote: { text: notes[i], dx: off[0], dy: off[1] }
      },
      scales: {
        x: {
          type: 'linear',
          min: xRanges[i][0],
          max: xRanges[i][1],
          grid: { display: false, drawTicks: false },
          border: { display: false },
          ticks: { padding: 2, color: '#222', maxRotation: 0, autoSkip: false },
          title: { display: true, text: xLabels[i], color: '#222', font: { size: 11 }, padding: { top: 0, bottom: 2 } },
          afterBuildTicks: function(s) { s.ticks = xt.map(function(v) { return {value: v}; }); },
          afterFit: function(s) { s.height = MB; }
        },
        y: {
          type: 'linear',
          min: 0.98,
          max: 1.02,
          grid: { display: false, drawTicks: false },
          border: { display: false },
          ticks: {
            padding: 4,
            color: '#222',
            autoSkip: false,
            callback: function(v) { var k = yTicks.indexOf(v); return k < 0 ? '' : yTickLabels[k]; }
          },
          title: { display: true, text: 'Relative Flux', color: '#222', font: { size: 11 }, padding: { top: 13, bottom: 0 } },
          afterBuildTicks: function(s) { s.ticks = yTicks.map(function(v) { return {value: v}; }); },
          afterFit: function(s) { s.width = ML; }
        }
      }
    },
    plugins: [errorBars, boxFrame, filterNote]
  });
}

for (var i = 0; i < series.length; i++) makePanel(i);
</script>
</body>
</html>
